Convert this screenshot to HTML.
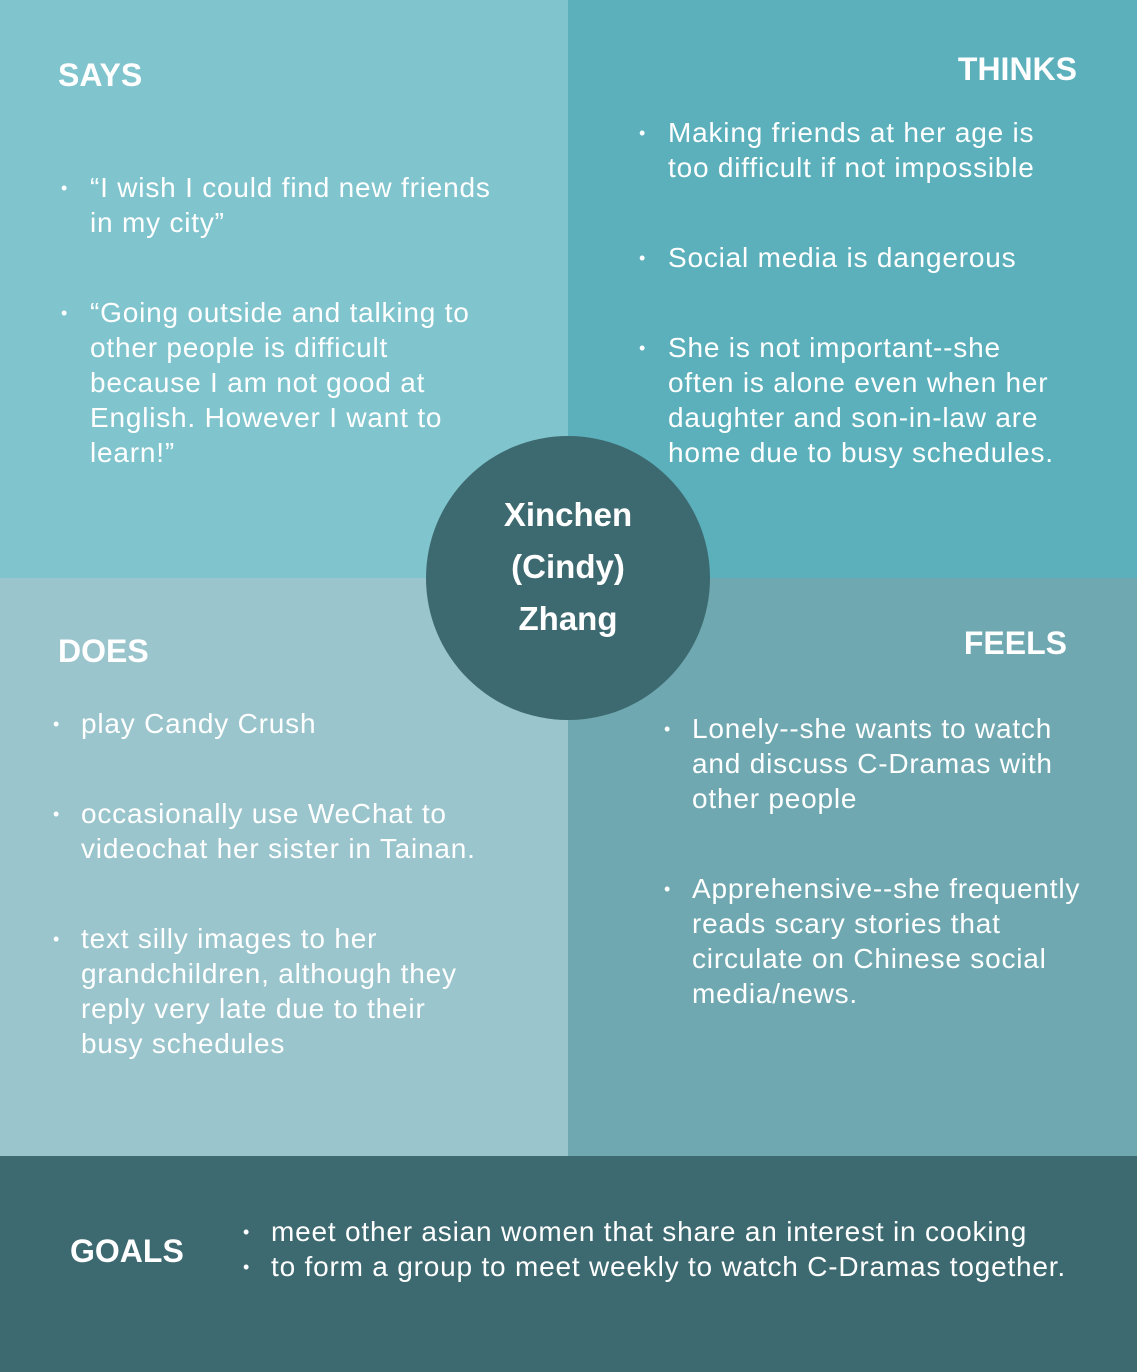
<!DOCTYPE html>
<html><head><meta charset="utf-8"><style>
*{margin:0;padding:0;box-sizing:border-box}
body{width:1137px;height:1372px;position:relative;overflow:hidden;font-family:"Liberation Sans",sans-serif;color:#fff}
.q{position:absolute}
.h{position:absolute;font-weight:bold;font-size:32px;line-height:32px;white-space:nowrap}
.t{position:absolute;font-size:28px;line-height:35px;white-space:nowrap;letter-spacing:0.8px}
.b{position:absolute;font-size:18px;line-height:35px}
</style></head><body>
<div class="q" style="left:0;top:0;width:568px;height:578px;background:#80c4cd"></div>
<div class="q" style="left:568px;top:0;width:569px;height:578px;background:#5bb0bb"></div>
<div class="q" style="left:0;top:578px;width:568px;height:578px;background:#9ac5cc"></div>
<div class="q" style="left:568px;top:578px;width:569px;height:578px;background:#6fa8b0"></div>
<div class="q" style="left:0;top:1156px;width:1137px;height:216px;background:#3d6a70"></div>

<div class="h" style="left:58px;top:59px">SAYS</div>
<div class="b" style="left:61px;top:171px">•</div>
<div class="t" style="left:90px;top:170px">“I wish I could find new friends<br>in my city”</div>
<div class="b" style="left:61px;top:296px">•</div>
<div class="t" style="left:90px;top:295px">“Going outside and talking to<br>other people is difficult<br>because I am not good at<br>English. However I want to<br>learn!”</div>

<div class="h" style="right:60px;top:53px">THINKS</div>
<div class="b" style="left:639px;top:116px">•</div>
<div class="t" style="left:668px;top:115px">Making friends at her age is<br>too difficult if not impossible</div>
<div class="b" style="left:639px;top:241px">•</div>
<div class="t" style="left:668px;top:240px">Social media is dangerous</div>
<div class="b" style="left:639px;top:331px">•</div>
<div class="t" style="left:668px;top:330px">She is not important--she<br>often is alone even when her<br>daughter and son-in-law are<br>home due to busy schedules.</div>

<div class="h" style="left:58px;top:635px">DOES</div>
<div class="b" style="left:53px;top:707px">•</div>
<div class="t" style="left:81px;top:706px">play Candy Crush</div>
<div class="b" style="left:53px;top:797px">•</div>
<div class="t" style="left:81px;top:796px">occasionally use WeChat to<br>videochat her sister in Tainan.</div>
<div class="b" style="left:53px;top:922px">•</div>
<div class="t" style="left:81px;top:921px">text silly images to her<br>grandchildren, although they<br>reply very late due to their<br>busy schedules</div>

<div class="h" style="right:70px;top:627px">FEELS</div>
<div class="b" style="left:664px;top:712px">•</div>
<div class="t" style="left:692px;top:711px">Lonely--she wants to watch<br>and discuss C-Dramas with<br>other people</div>
<div class="b" style="left:664px;top:872px">•</div>
<div class="t" style="left:692px;top:871px">Apprehensive--she frequently<br>reads scary stories that<br>circulate on Chinese social<br>media/news.</div>

<div class="h" style="left:70px;top:1235px">GOALS</div>
<div class="b" style="left:243px;top:1215px">•</div>
<div class="t" style="left:271px;top:1214px">meet other asian women that share an interest in cooking</div>
<div class="b" style="left:243px;top:1250px">•</div>
<div class="t" style="left:271px;top:1249px">to form a group to meet weekly to watch C-Dramas together.</div>

<div class="q" style="left:426px;top:436px;width:284px;height:284px;border-radius:50%;background:#3d6a70"></div>
<div class="h" style="left:426px;width:284px;top:489px;text-align:center;line-height:52px;font-size:33px;white-space:normal">Xinchen<br>(Cindy)<br>Zhang</div>
</body></html>
